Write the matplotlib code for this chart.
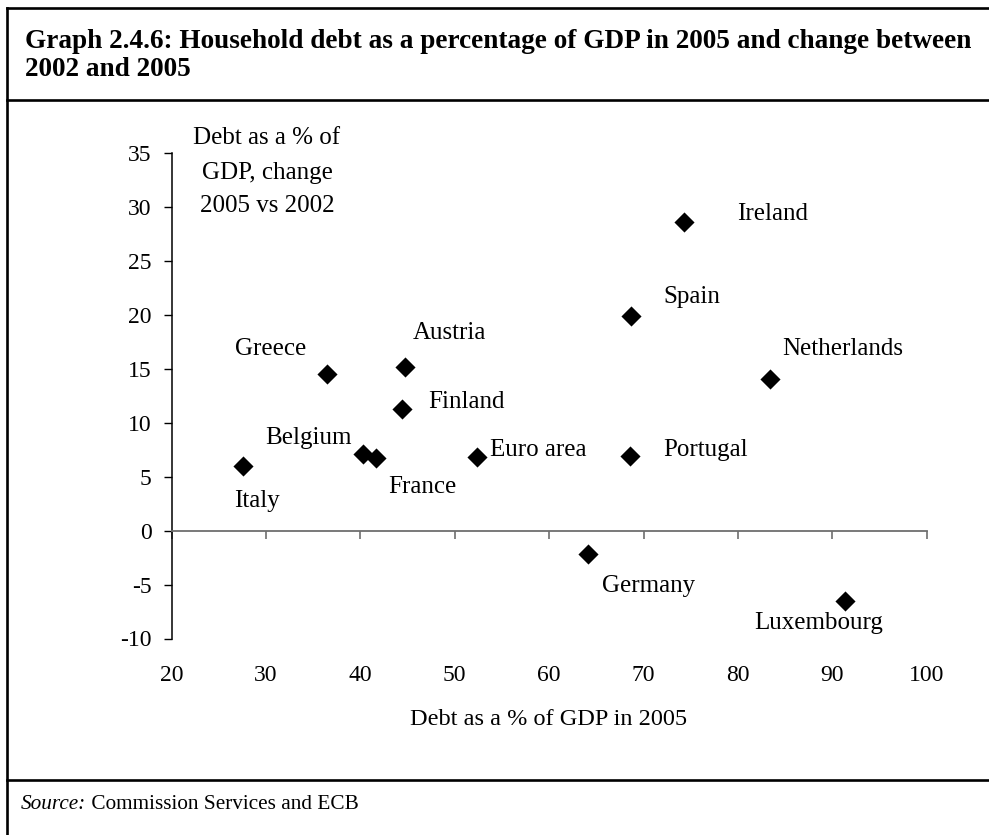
import matplotlib
matplotlib.use("Agg")
import matplotlib.pyplot as plt
from matplotlib.lines import Line2D

plt.rcParams['font.family'] = ['Liberation Serif', 'DejaVu Serif']
plt.rcParams['axes.unicode_minus'] = False

# ---- data ----
countries = ['Italy', 'Greece', 'Belgium', 'France', 'Finland', 'Austria', 'Euro area',
             'Germany', 'Spain', 'Portugal', 'Ireland', 'Netherlands', 'Luxembourg']
debt_2005 = [27.6, 36.5, 40.3, 41.7, 44.4, 44.7, 52.4, 64.1, 68.7, 68.6, 74.3, 83.4, 91.3]
change_2005_vs_2002 = [6.0, 14.5, 7.1, 6.7, 11.3, 15.2, 6.8, -2.2, 19.9, 6.9, 28.6, 14.1, -6.5]
x_ticks = [20, 30, 40, 50, 60, 70, 80, 90, 100]
y_ticks = [-10, -5, 0, 5, 10, 15, 20, 25, 30, 35]

# label placement: (dx pt, dy pt, ha)
label_offsets = {
    'Italy': (-6.5, -25, 'left'),
    'Greece': (-40.7, 18, 'center'),
    'Belgium': (-8.6, 11.5, 'right'),
    'France': (8.4, -20.4, 'left'),
    'Finland': (18.7, 4.8, 'left'),
    'Austria': (32.4, 24.3, 'center'),
    'Euro area': (8.9, 5.5, 'left'),
    'Germany': (10.1, -23, 'left'),
    'Spain': (22.8, 13.9, 'left'),
    'Portugal': (24, 4.8, 'left'),
    'Ireland': (38.2, 6.3, 'left'),
    'Netherlands': (8.9, 21.1, 'left'),
    'Luxembourg': (-18.7, -15.8, 'center'),
}

W, H = 989, 835
fig = plt.figure(figsize=(W / 100, H / 100), dpi=100)

def fx(px):
    return px / W

def fy(py):
    return 1 - py / H

ax = fig.add_axes([fx(171.6), fy(638.5), fx(926.8) - fx(171.6), fy(153.4) - fy(638.5)])
ax.set_xlim(20, 100)
ax.set_ylim(-10, 35)

ax.scatter(debt_2005, change_2005_vs_2002, marker='D', s=105, color='black', zorder=3,
           linewidths=0)

label_fs = 18
for name, x, y in zip(countries, debt_2005, change_2005_vs_2002):
    dx, dy, ha = label_offsets[name]
    ax.annotate(name, (x, y), xytext=(dx, dy), textcoords='offset points',
                ha=ha, va='center', fontsize=label_fs, color='black')

# spines
for s in ['top', 'right']:
    ax.spines[s].set_visible(False)
ax.spines['left'].set_linewidth(1.1)
ax.spines['left'].set_color('black')
ax.spines['bottom'].set_position(('data', 0))
ax.spines['bottom'].set_color('#6e6e6e')
ax.spines['bottom'].set_linewidth(1.3)

ax.set_yticks(y_ticks)
ax.set_yticklabels([str(v) for v in y_ticks])
ax.tick_params(axis='y', direction='out', length=5.8, width=1.0, pad=8.6,
               labelsize=17, colors='black')

ax.set_xticks(x_ticks)
ax.tick_params(axis='x', direction='out', length=5.5, width=1.2, color='#6e6e6e',
               labelbottom=False)

sec = ax.secondary_xaxis('bottom')
sec.set_xticks(x_ticks)
sec.set_xticklabels([str(v) for v in x_ticks])
sec.spines['bottom'].set_visible(False)
sec.tick_params(axis='x', length=0, pad=19, labelsize=17, colors='black')

# axis titles
fig.text(fx(548.8), fy(719.3), 'Debt as a % of GDP in 2005', ha='center', va='center',
         fontsize=17.5)
for line, py in zip(['Debt as a % of', 'GDP, change', '2005 vs 2002'], [137.7, 172.7, 206.0]):
    fig.text(fx(267), fy(py), line, ha='center', va='center', fontsize=18)

# title
fig.text(fx(25), fy(48.3),
         'Graph 2.4.6: Household debt as a percentage of GDP in 2005 and change between',
         ha='left', va='baseline', fontsize=19.6, fontweight='bold')
fig.text(fx(25), fy(76), '2002 and 2005', ha='left', va='baseline', fontsize=19.6,
         fontweight='bold')

# source
t1 = fig.text(fx(20.7), fy(809.3), 'Source:', ha='left', va='baseline', fontsize=15.3,
              style='italic')
fig.canvas.draw()
bb = t1.get_window_extent(renderer=fig.canvas.get_renderer())
fig.text(bb.x1 / W, fy(809.3), ' Commission Services and ECB', ha='left', va='baseline',
         fontsize=15.3)

# frame lines
lw = 1.9
fig.add_artist(Line2D([fx(6.7), fx(6.7)], [fy(8.3), 0], transform=fig.transFigure,
                      color='black', lw=lw))
fig.add_artist(Line2D([fx(6.7), 1], [fy(8.3), fy(8.3)], transform=fig.transFigure,
                      color='black', lw=lw))
fig.add_artist(Line2D([fx(6.7), 1], [fy(100), fy(100)], transform=fig.transFigure,
                      color='black', lw=lw))
fig.add_artist(Line2D([fx(6.7), 1], [fy(780), fy(780)], transform=fig.transFigure,
                      color='black', lw=lw))

fig.savefig('out.png', dpi=100)
